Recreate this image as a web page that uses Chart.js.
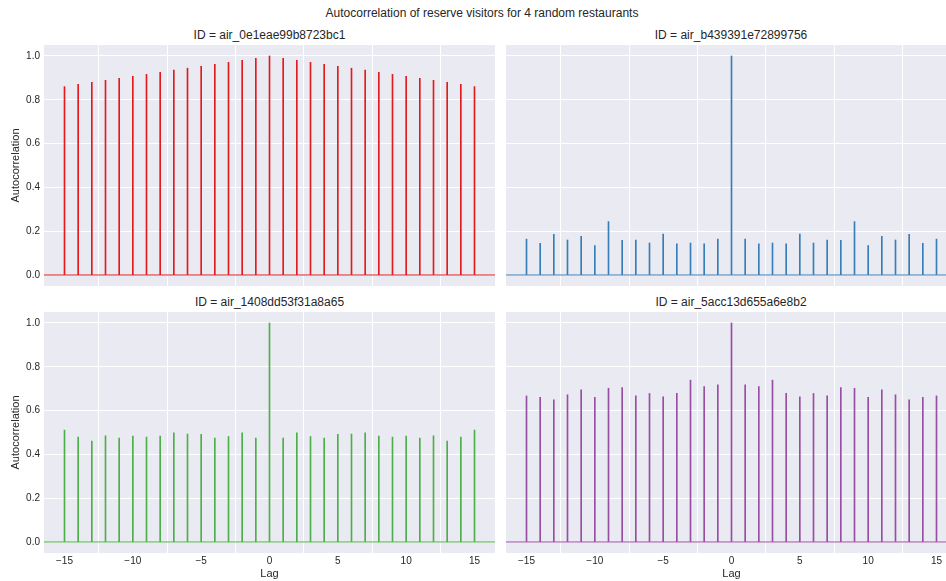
<!DOCTYPE html>
<html>
<head>
<meta charset="utf-8">
<script src="https://cdn.jsdelivr.net/npm/chart.js@4.4.1/dist/chart.umd.min.js"></script>
<style>
body{margin:0;width:946px;height:581px;overflow:hidden;position:relative;background:#fff;font-family:"Liberation Sans",Arial,sans-serif;color:#262626}
canvas{position:absolute}
.t{position:absolute;transform:translate(-50%,-50%);font-size:12px;white-space:nowrap}
</style>
</head>
<body>
<div class="t" style="left:482px;top:13px">Autocorrelation of reserve visitors for 4 random restaurants</div>
<div class="t" style="left:269.5px;top:35px">ID = air_0e1eae99b8723bc1</div>
<div class="t" style="left:731px;top:35px">ID = air_b439391e72899756</div>
<div class="t" style="left:269.5px;top:302px">ID = air_1408dd53f31a8a65</div>
<div class="t" style="left:731px;top:302px">ID = air_5acc13d655a6e8b2</div>
<canvas id="c1" width="495" height="245" style="left:0;top:45px"></canvas>
<canvas id="c2" width="457" height="245" style="left:500px;top:45px"></canvas>
<canvas id="c3" width="495" height="271" style="left:0;top:312px"></canvas>
<canvas id="c4" width="457" height="271" style="left:500px;top:312px"></canvas>
<script>
const lags = [-15,-14,-13,-12,-11,-10,-9,-8,-7,-6,-5,-4,-3,-2,-1,0,1,2,3,4,5,6,7,8,9,10,11,12,13,14,15];
const xTicks = [-15,-10,-5,0,5,10,15];
const yTicks = [0,0.2,0.4,0.6,0.8,1.0];

const acf1 = [0.860,0.871,0.880,0.889,0.898,0.907,0.916,0.925,0.935,0.944,0.953,0.962,0.971,0.980,0.989,1.0,
  0.989,0.980,0.971,0.962,0.953,0.944,0.935,0.925,0.916,0.907,0.898,0.889,0.880,0.871,0.860];
const acf2 = [0.164,0.145,0.186,0.160,0.177,0.134,0.244,0.158,0.160,0.146,0.187,0.142,0.146,0.143,0.164,1.0,
  0.164,0.143,0.146,0.142,0.187,0.146,0.160,0.158,0.244,0.134,0.177,0.160,0.186,0.145,0.164];
const acf3 = [0.511,0.479,0.461,0.485,0.475,0.484,0.479,0.484,0.499,0.493,0.492,0.475,0.482,0.499,0.475,1.0,
  0.475,0.499,0.482,0.475,0.492,0.493,0.499,0.484,0.479,0.484,0.475,0.485,0.461,0.479,0.511];
const acf4 = [0.667,0.661,0.649,0.672,0.695,0.661,0.702,0.705,0.667,0.678,0.663,0.679,0.739,0.710,0.718,1.0,
  0.718,0.710,0.739,0.679,0.663,0.678,0.667,0.705,0.702,0.661,0.695,0.672,0.649,0.661,0.667];

const bgPlugin = {
  id: 'bg',
  beforeDraw(chart) {
    const a = chart.chartArea;
    chart.ctx.save();
    chart.ctx.fillStyle = '#EAEAF2';
    chart.ctx.fillRect(a.left, a.top, a.right - a.left, a.bottom - a.top);
    chart.ctx.restore();
  }
};

// horizontal line at zero, like plt.acorr
const zeroLine = {
  id: 'zeroLine',
  afterDatasetsDraw(chart, args, opts) {
    const a = chart.chartArea;
    const y = chart.scales.y.getPixelForValue(0);
    const ctx = chart.ctx;
    ctx.save();
    ctx.globalAlpha = 0.5;
    ctx.strokeStyle = opts.color;
    ctx.lineWidth = 2;
    ctx.beginPath();
    ctx.moveTo(a.left, y);
    ctx.lineTo(a.right, y);
    ctx.stroke();
    ctx.restore();
  }
};

function makeChart(id, values, color, left, bottom) {
  new Chart(document.getElementById(id), {
    type: 'bar',
    data: {
      datasets: [{
        data: lags.map((l, i) => ({x: l, y: values[i]})),
        backgroundColor: color,
        barThickness: 1,
        borderWidth: 0
      }]
    },
    plugins: [bgPlugin, zeroLine],
    options: {
      responsive: false,
      animation: false,
      layout: {padding: 0},
      plugins: {
        legend: {display: false},
        tooltip: {enabled: false},
        zeroLine: {color: color}
      },
      scales: {
        x: {
          type: 'linear',
          offset: false,
          min: -16.5,
          max: 16.5,
          afterBuildTicks: s => { s.ticks = xTicks.map(v => ({value: v})); },
          afterFit: s => { s.height = bottom ? 30 : 4; s.paddingLeft = 0; s.paddingRight = 0; },
          grid: {color: '#ffffff', lineWidth: 1, drawTicks: false},
          border: {display: false},
          ticks: {
            display: bottom,
            padding: 2,
            color: '#262626',
            font: {family: 'Liberation Sans', size: 10},
            callback: v => String(v).replace('-', '\u2212')
          },
          title: {
            display: bottom,
            text: 'Lag',
            color: '#262626',
            font: {family: 'Liberation Sans', size: 11},
            padding: {top: 0, bottom: 2.4}
          }
        },
        y: {
          type: 'linear',
          min: -0.05,
          max: 1.05,
          afterBuildTicks: s => { s.ticks = yTicks.map(v => ({value: v})); },
          afterFit: s => { s.width = left ? 44 : 6; s.paddingTop = 0; s.paddingBottom = 0; },
          grid: {color: '#ffffff', lineWidth: 1, drawTicks: false},
          border: {display: false},
          ticks: {
            display: left,
            padding: 4,
            color: '#262626',
            font: {family: 'Liberation Sans', size: 10},
            callback: v => v.toFixed(1)
          },
          title: {
            display: left,
            text: 'Autocorrelation',
            color: '#262626',
            font: {family: 'Liberation Sans', size: 11},
            padding: {top: 9.4, bottom: 0}
          }
        }
      }
    }
  });
}

makeChart('c1', acf1, '#e41a1c', true, false);
makeChart('c2', acf2, '#377eb8', false, false);
makeChart('c3', acf3, '#4daf4a', true, true);
makeChart('c4', acf4, '#984ea3', false, true);
</script>
</body>
</html>
